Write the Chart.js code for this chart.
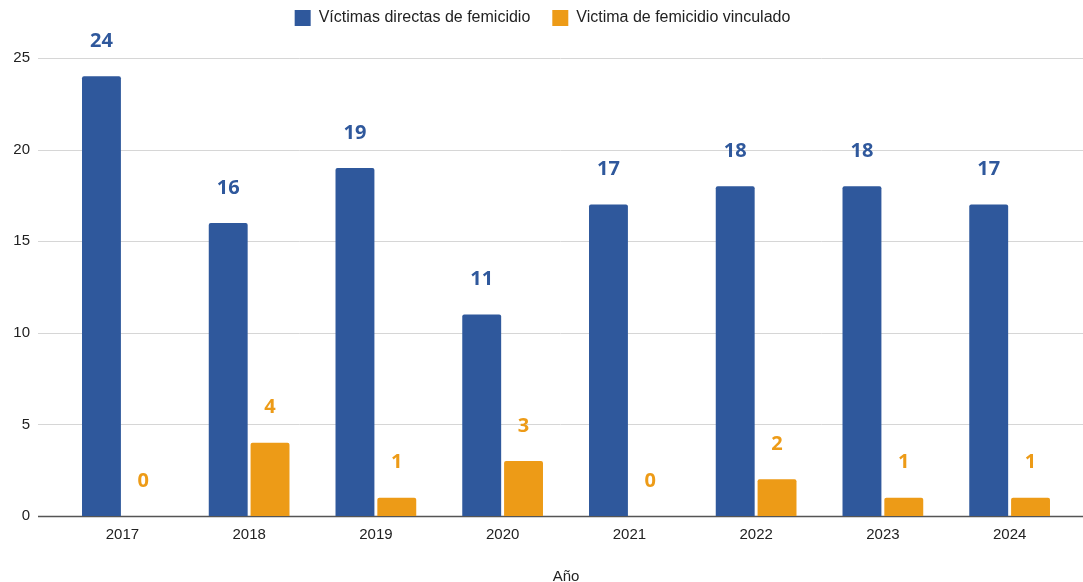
<!DOCTYPE html>
<html>
<head>
<meta charset="utf-8">
<script src="https://cdn.jsdelivr.net/npm/chart.js@4/dist/chart.umd.min.js"></script>
<style>
    body { margin: 0; background: #fff; }
    #wrap { width: 1083px; height: 582px; position: relative; }
</style>
</head>
<body>
<div id="wrap"><canvas id="chart"></canvas></div>
<script>
/* ---------------- DATA ---------------- */
const years = ["2017", "2018", "2019", "2020", "2021", "2022", "2023", "2024"];
const directas = [24, 16, 19, 11, 17, 18, 18, 17];
const vinculado = [0, 4, 1, 3, 0, 2, 1, 1];
const yTicks = [0, 5, 10, 15, 20, 25];

const BLUE = "#2f589c";
const ORANGE = "#ed9b17";
const FONT = "'Liberation Sans', Arial";

/* extra room under the legend */
const legendSpace = {
    id: "legendSpace",
    beforeInit(chart) {
        const fit = chart.legend.fit;
        chart.legend.fit = function () {
            fit.bind(chart.legend)();
            this.height += 22;
        };
    }
};

/* gridlines run a bit wider than the bar area, like the original */
const gridPlugin = {
    id: "wideGrid",
    beforeDatasetsDraw(chart) {
        const ctx = chart.ctx;
        const y = chart.scales.y;
        const left = chart.chartArea.left - 21;
        const right = chart.width;
        ctx.save();
        yTicks.forEach(v => {
            const py = Math.round(y.getPixelForValue(v)) + 0.5;
            ctx.beginPath();
            ctx.strokeStyle = v === 0 ? "#555555" : "#d6d6d6";
            ctx.lineWidth = v === 0 ? 1.6 : 1;
            ctx.moveTo(left, py);
            ctx.lineTo(right, py);
            ctx.stroke();
        });
        ctx.restore();
    }
};

/* value labels above each bar */
const valuePlugin = {
    id: "valueLabels",
    afterDatasetsDraw(chart) {
        const ctx = chart.ctx;
        ctx.save();
        ctx.font = "bold 20px 'Open Sans'";
        ctx.textAlign = "center";
        ctx.textBaseline = "middle";
        chart.data.datasets.forEach((ds, i) => {
            chart.getDatasetMeta(i).data.forEach((bar, j) => {
                ctx.fillStyle = ds.backgroundColor;
                ctx.fillText(String(ds.data[j]), bar.x, bar.y - 35);
            });
        });
        ctx.restore();
    }
};

new Chart(document.getElementById("chart"), {
    type: "bar",
    data: {
        labels: years,
        datasets: [
            {
                label: "Víctimas directas de femicidio",
                data: directas,
                backgroundColor: BLUE,
                borderRadius: 2,
                borderSkipped: "bottom",
                barPercentage: 0.93,
                categoryPercentage: 0.66
            },
            {
                label: "Victima de femicidio vinculado",
                data: vinculado,
                backgroundColor: ORANGE,
                borderRadius: 2,
                borderSkipped: "bottom",
                barPercentage: 0.93,
                categoryPercentage: 0.66
            }
        ]
    },
    options: {
        responsive: true,
        maintainAspectRatio: false,
        animation: false,
        layout: { padding: { left: 12, right: 10, top: -12, bottom: 0 } },
        plugins: {
            tooltip: { enabled: false },
            legend: {
                position: "top",
                labels: {
                    boxWidth: 16,
                    boxHeight: 16,
                    padding: 22,
                    color: "#222",
                    font: { family: FONT, size: 16 }
                }
            }
        },
        scales: {
            x: {
                grid: { display: false },
                border: { display: false },
                afterFit(scale) { scale.height = 66; },
                ticks: {
                    color: "#222",
                    padding: 2,
                    font: { family: FONT, size: 15 }
                },
                title: {
                    display: true,
                    text: "Año",
                    color: "#222",
                    padding: { top: 15, bottom: -4 },
                    font: { family: FONT, size: 15 }
                }
            },
            y: {
                min: 0,
                max: 25,
                grid: { display: false, drawTicks: false },
                border: { display: false },
                afterFit(scale) { scale.width = 47; },
                ticks: {
                    stepSize: 5,
                    color: "#222",
                    padding: 29,
                    font: { family: FONT, size: 15 }
                }
            }
        }
    },
    plugins: [legendSpace, gridPlugin, valuePlugin]
});
</script>
</body>
</html>
